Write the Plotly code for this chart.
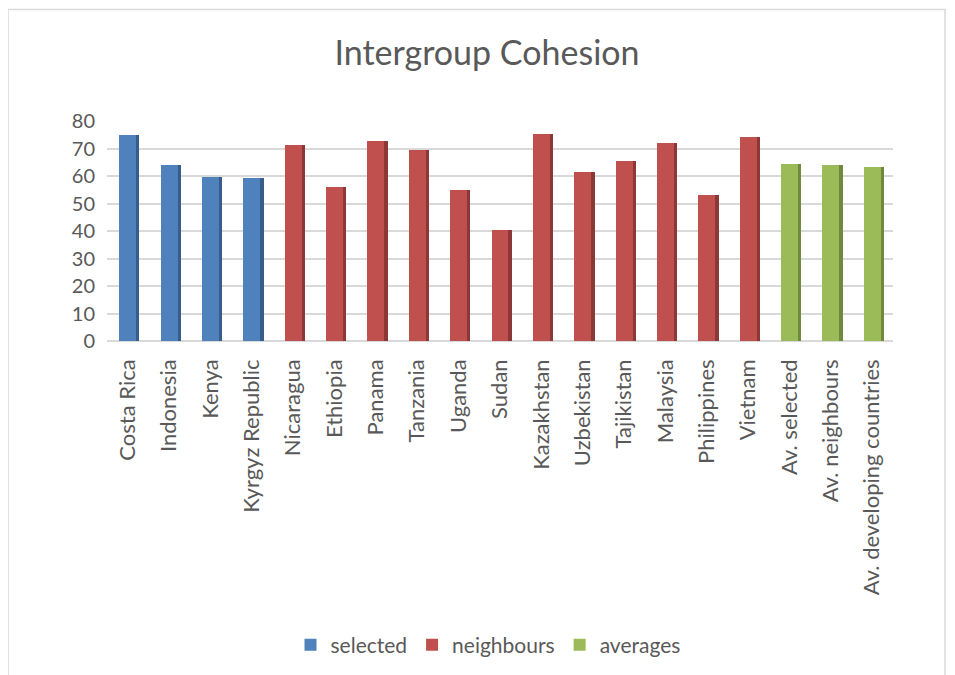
import plotly.graph_objects as go

selected_names = ["Costa Rica", "Indonesia", "Kenya", "Kyrgyz Republic"]
selected_values = [74.8, 63.9, 59.5, 59.2]

neighbour_names = ["Nicaragua", "Ethiopia", "Panama", "Tanzania", "Uganda", "Sudan",
                   "Kazakhstan", "Uzbekistan", "Tajikistan", "Malaysia", "Philippines", "Vietnam"]
neighbour_values = [71.3, 56.1, 72.7, 69.4, 54.9, 40.4, 75.2, 61.4, 65.3, 72.0, 53.2, 74.2]

average_names = ["Av. selected", "Av. neighbours", "Av. developing countries"]
average_values = [64.3, 63.9, 63.3]

categories = selected_names + neighbour_names + average_names
y_ticks = [0, 10, 20, 30, 40, 50, 60, 70, 80]

groups = [
    ("selected", selected_names, selected_values, "#4f81bd", "#385d8a"),
    ("neighbours", neighbour_names, neighbour_values, "#c0504d", "#8c3836"),
    ("averages", average_names, average_values, "#9bbb59", "#71893f"),
]

FONT = "Lato, 'Open Sans', sans-serif"
# page body has an 8px default margin, so the figure is 8px smaller each way
FW, FH = 947, 667
L, T, PW, PH = 99, 113, 786, 221
fig = go.Figure()
W = 0.41
for name, xs, ys, col, dark in groups:
    # darker side face (pseudo-3D)
    fig.add_trace(go.Bar(x=xs, y=ys, name=name, showlegend=False, hoverinfo="skip",
                         width=0.09, offset=W / 2 - 0.01, marker=dict(color=dark, line=dict(width=0))))
    fig.add_trace(go.Bar(x=xs, y=ys, name=name, width=W, offset=-W / 2,
                         marker=dict(color=col, line=dict(width=0))))

bottom = T + PH
fig.update_layout(
    width=FW, height=FH,
    margin=dict(l=L, r=FW - L - PW, t=T, b=FH - T - PH),
    paper_bgcolor="white", plot_bgcolor="white",
    barmode="overlay",
    title=dict(text="Intergroup Cohesion", x=479 / FW, xanchor="center", y=1 - 45 / FH, yanchor="middle",
               font=dict(family=FONT, size=34, color="#595959")),
    font=dict(family=FONT, color="#595959"),
    xaxis=dict(categoryorder="array", categoryarray=categories, tickangle=-90,
               tickfont=dict(size=22, color="#595959"), showgrid=False, showline=False,
               ticks="", range=[-0.5, len(categories) - 0.5], ticklabelstandoff=13),
    yaxis=dict(range=[0, 80], tickvals=y_ticks, tickfont=dict(size=20, color="#595959"),
               showgrid=True, gridcolor="#d9d9d9", gridwidth=2, zeroline=True,
               zerolinecolor="#d9d9d9", zerolinewidth=2, showline=False, ticks="",
               ticklabelstandoff=11),
    legend=dict(orientation="h", x=0.5 - 12 / PW, xanchor="center", y=(bottom - 637) / PH, yanchor="middle",
                font=dict(size=21, color="#595959"), itemwidth=30, traceorder="normal"),
    bargap=0,
    shapes=[dict(type="rect", xref="paper", yref="paper",
                 x0=(0 - L) / PW, x1=(937 - L) / PW,
                 y0=(bottom - 700) / PH, y1=(bottom - 1) / PH,
                 line=dict(color="#d9d9d9", width=1.5), layer="below")],
)

fig.write_html("out.html")
